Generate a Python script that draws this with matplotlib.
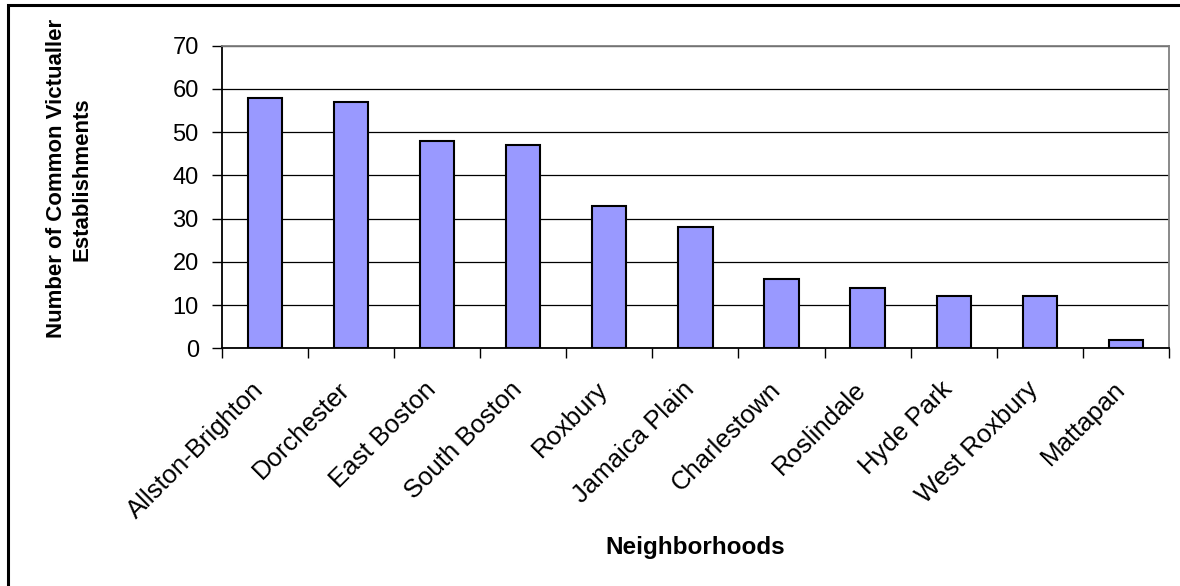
import numpy as np
import matplotlib.pyplot as plt
from matplotlib.patches import Rectangle
from matplotlib.transforms import ScaledTranslation

plt.rcParams['font.family'] = ['Liberation Sans', 'DejaVu Sans']

neighborhoods = ["Allston-Brighton", "Dorchester", "East Boston", "South Boston",
                 "Roxbury", "Jamaica Plain", "Charlestown", "Roslindale",
                 "Hyde Park", "West Roxbury", "Mattapan"]
establishments = [58, 57, 48, 47, 33, 28, 16, 14, 12, 12, 2]

fig = plt.figure(figsize=(11.8, 5.86), dpi=100)
ax = fig.add_axes([0.1879, 0.4056, 0.9907 - 0.1879, 0.922 - 0.4056])

x = np.arange(len(neighborhoods))
ax.bar(x, establishments, width=0.4, color='#9999FF', edgecolor='black',
       linewidth=1.5, zorder=3)

ax.set_xlim(-0.5, len(neighborhoods) - 0.5)
ax.set_ylim(0, 70)
ax.set_yticks(range(0, 71, 10))
ax.yaxis.grid(True, color='black', linewidth=0.9, zorder=0)

# category labels at centres, tick marks on category boundaries
ax.set_xticks(x)
ax.set_xticklabels(neighborhoods, rotation=45, ha='right', va='center',
                   rotation_mode='anchor', fontsize=18.5)
ax.set_xticks(np.arange(-0.5, len(neighborhoods)), minor=True)
ax.tick_params(axis='x', which='major', length=0, pad=27)
ax.tick_params(axis='x', which='minor', length=7, width=1, direction='out')
ax.tick_params(axis='y', length=7, width=1, direction='out', pad=9.5,
               labelsize=17)

shift = ScaledTranslation(-5 / 100, 0, fig.dpi_scale_trans)
for lbl in ax.get_xticklabels():
    lbl.set_transform(lbl.get_transform() + shift)

for side in ('left', 'bottom'):
    ax.spines[side].set_color('black')
    ax.spines[side].set_linewidth(1.3)
for side in ('top', 'right'):
    ax.spines[side].set_color('#808080')
    ax.spines[side].set_linewidth(1.3)

fig.text(0.0585, 0.695, "Number of Common Victualler\nEstablishments",
         rotation=90, ha='center', va='center', fontsize=16,
         fontweight='bold', linespacing=1.3)
fig.text(0.5894, 0.0546, "Neighborhoods", ha='center', va='baseline',
         fontsize=17.5, fontweight='bold')

# outer chart border
fig.patches.append(Rectangle((0.0068, -0.1), 1.2, 0.9915 + 0.1,
                             transform=fig.transFigure, fill=False,
                             edgecolor='black', linewidth=2.2))

fig.savefig('out.png', dpi=100)
